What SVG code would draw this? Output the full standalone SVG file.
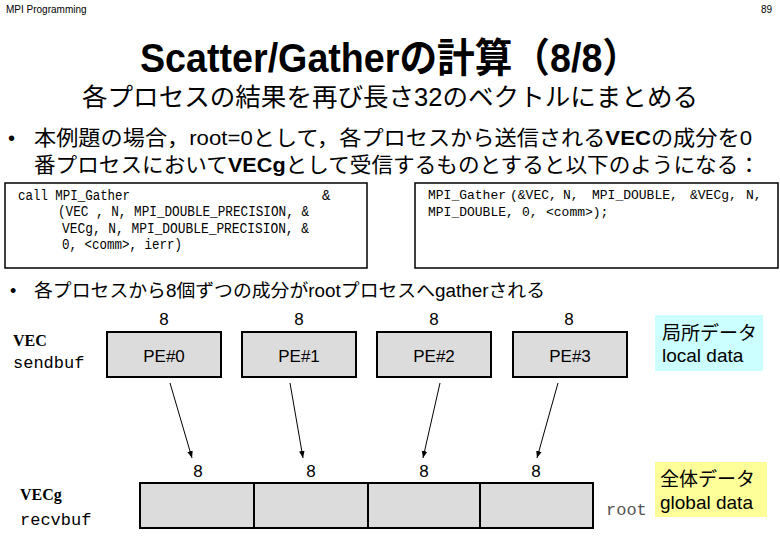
<svg xmlns="http://www.w3.org/2000/svg" width="780" height="540" viewBox="0 0 780 540">
<defs>
<marker id="ah" viewBox="0 0 10 10" refX="10" refY="5" markerWidth="7" markerHeight="7" markerUnits="userSpaceOnUse" orient="auto">
<path d="M0,1 L10,5 L0,9 Z" fill="#000"/>
</marker>
</defs>
<style>
.sans{font-family:"Liberation Sans","Noto Sans CJK JP",sans-serif;}
.jp{font-family:"Liberation Sans","Noto Sans CJK JP",sans-serif;}
.code{font-family:"Liberation Mono",monospace;font-size:14px;fill:#000;}
.code2{font-family:"Liberation Mono",monospace;font-size:13px;fill:#000;}
.cour{font-family:"Liberation Mono","Courier New",monospace;font-size:17px;}
.serifb{font-family:"Liberation Serif",serif;font-weight:bold;font-size:16px;}
.codebox{fill:#fff;stroke:#000;stroke-width:1.5;}
.pe{fill:#dcdcdc;stroke:#000;stroke-width:2;}
.lbl{font-family:"Liberation Sans",sans-serif;font-size:17px;text-anchor:middle;}
.conn{stroke:#000;stroke-width:1;fill:none;marker-end:url(#ah);}
</style>
<rect width="780" height="540" fill="#fff"/>

<g id="header">
<text x="6" y="13" class="sans" font-size="10">MPI Programming</text>
<text x="772" y="13" class="sans" font-size="10" text-anchor="end">89</text>
</g>

<g id="title">
<text x="140" y="72" class="jp" font-size="40" font-weight="bold" textLength="500" lengthAdjust="spacingAndGlyphs">Scatter/Gatherの計算（8/8）</text>
<text x="82" y="106" class="jp" font-size="25" textLength="616" lengthAdjust="spacingAndGlyphs">各プロセスの結果を再び長さ32のベクトルにまとめる</text>
</g>

<g id="bullet1">
<text x="8" y="145" class="sans" font-size="20">•</text>
<text x="34" y="145" class="jp" font-size="21" textLength="718" lengthAdjust="spacingAndGlyphs">本例題の場合，root=0として，各プロセスから送信される<tspan font-weight="bold">VEC</tspan>の成分を0</text>
<text x="34" y="172" class="jp" font-size="21" textLength="726" lengthAdjust="spacingAndGlyphs">番プロセスにおいて<tspan font-weight="bold">VECg</tspan>として受信するものとすると以下のようになる：</text>
</g>

<g id="code-fortran">
<rect x="5" y="183" width="362" height="85" class="codebox"/>
<text x="18" y="200" class="code" textLength="112" lengthAdjust="spacingAndGlyphs">call MPI_Gather</text>
<text x="322" y="200" class="code">&amp;</text>
<text x="58" y="216" class="code" textLength="251" lengthAdjust="spacingAndGlyphs" xml:space="preserve">(VEC , N, MPI_DOUBLE_PRECISION, &amp;</text>
<text x="62" y="233" class="code" textLength="247" lengthAdjust="spacingAndGlyphs" xml:space="preserve">VECg, N, MPI_DOUBLE_PRECISION, &amp;</text>
<text x="62" y="249" class="code" textLength="120" lengthAdjust="spacingAndGlyphs" xml:space="preserve">0, &lt;comm&gt;, ierr)</text>
</g>

<g id="code-c">
<rect x="415" y="183" width="363" height="85" class="codebox"/>
<text x="428" y="199" class="code2">MPI_Gather</text>
<text x="510" y="199" class="code2">(&amp;VEC,</text>
<text x="563" y="199" class="code2">N,</text>
<text x="592" y="199" class="code2">MPI_DOUBLE,</text>
<text x="690" y="199" class="code2">&amp;VECg,</text>
<text x="746" y="199" class="code2">N,</text>
<text x="428" y="216" class="code2">MPI_DOUBLE,</text>
<text x="522" y="216" class="code2">0,</text>
<text x="546" y="216" class="code2">&lt;comm&gt;);</text>
</g>

<g id="bullet2">
<text x="10" y="297" class="sans" font-size="18">•</text>
<text x="34" y="297" class="jp" font-size="18" textLength="511" lengthAdjust="spacingAndGlyphs">各プロセスから8個ずつの成分がrootプロセスへgatherされる</text>
</g>

<g id="sendbuf-label">
<text x="13" y="346" class="serifb">VEC</text>
<text x="13" y="368" class="cour">sendbuf</text>
</g>

<g id="pe0">
<text x="164" y="325" class="lbl">8</text>
<rect x="107" y="332" width="114" height="45" class="pe"/>
<text x="164" y="362" class="lbl">PE#0</text>
</g>
<g id="pe1">
<text x="299" y="325" class="lbl">8</text>
<rect x="242" y="332" width="114" height="45" class="pe"/>
<text x="299" y="362" class="lbl">PE#1</text>
</g>
<g id="pe2">
<text x="434" y="325" class="lbl">8</text>
<rect x="377" y="332" width="114" height="45" class="pe"/>
<text x="434" y="362" class="lbl">PE#2</text>
</g>
<g id="pe3">
<text x="569" y="325" class="lbl">8</text>
<rect x="513" y="332" width="114" height="45" class="pe"/>
<text x="570" y="362" class="lbl">PE#3</text>
</g>

<g id="local-data">
<rect x="655" y="315" width="108" height="56" fill="#ccffff"/>
<text x="662" y="340" class="jp" font-size="19">局所データ</text>
<text x="662" y="362" class="sans" font-size="19">local data</text>
</g>

<g id="connectors">
<line x1="170" y1="383" x2="192" y2="458" class="conn"/>
<line x1="290" y1="383" x2="303" y2="458" class="conn"/>
<line x1="440" y1="383" x2="423" y2="458" class="conn"/>
<line x1="558" y1="383" x2="537" y2="458" class="conn"/>
</g>

<g id="recvbuf-label">
<text x="20" y="500" class="serifb">VECg</text>
<text x="20" y="525" class="cour">recvbuf</text>
</g>

<g id="recvbuf">
<text x="198" y="477" class="lbl">8</text>
<text x="311" y="477" class="lbl">8</text>
<text x="424" y="477" class="lbl">8</text>
<text x="536" y="477" class="lbl">8</text>
<rect x="140" y="483" width="114" height="45" class="pe"/>
<rect x="254" y="483" width="114" height="45" class="pe"/>
<rect x="368" y="483" width="112" height="45" class="pe"/>
<rect x="480" y="483" width="113" height="45" class="pe"/>
</g>

<g id="root-label">
<text x="606" y="515" class="cour" font-size="16" fill="#555">root</text>
</g>

<g id="global-data">
<rect x="655" y="462" width="112" height="55" fill="#ffff99"/>
<text x="660" y="486" class="jp" font-size="19">全体データ</text>
<text x="660" y="509" class="sans" font-size="19">global data</text>
</g>
</svg>
